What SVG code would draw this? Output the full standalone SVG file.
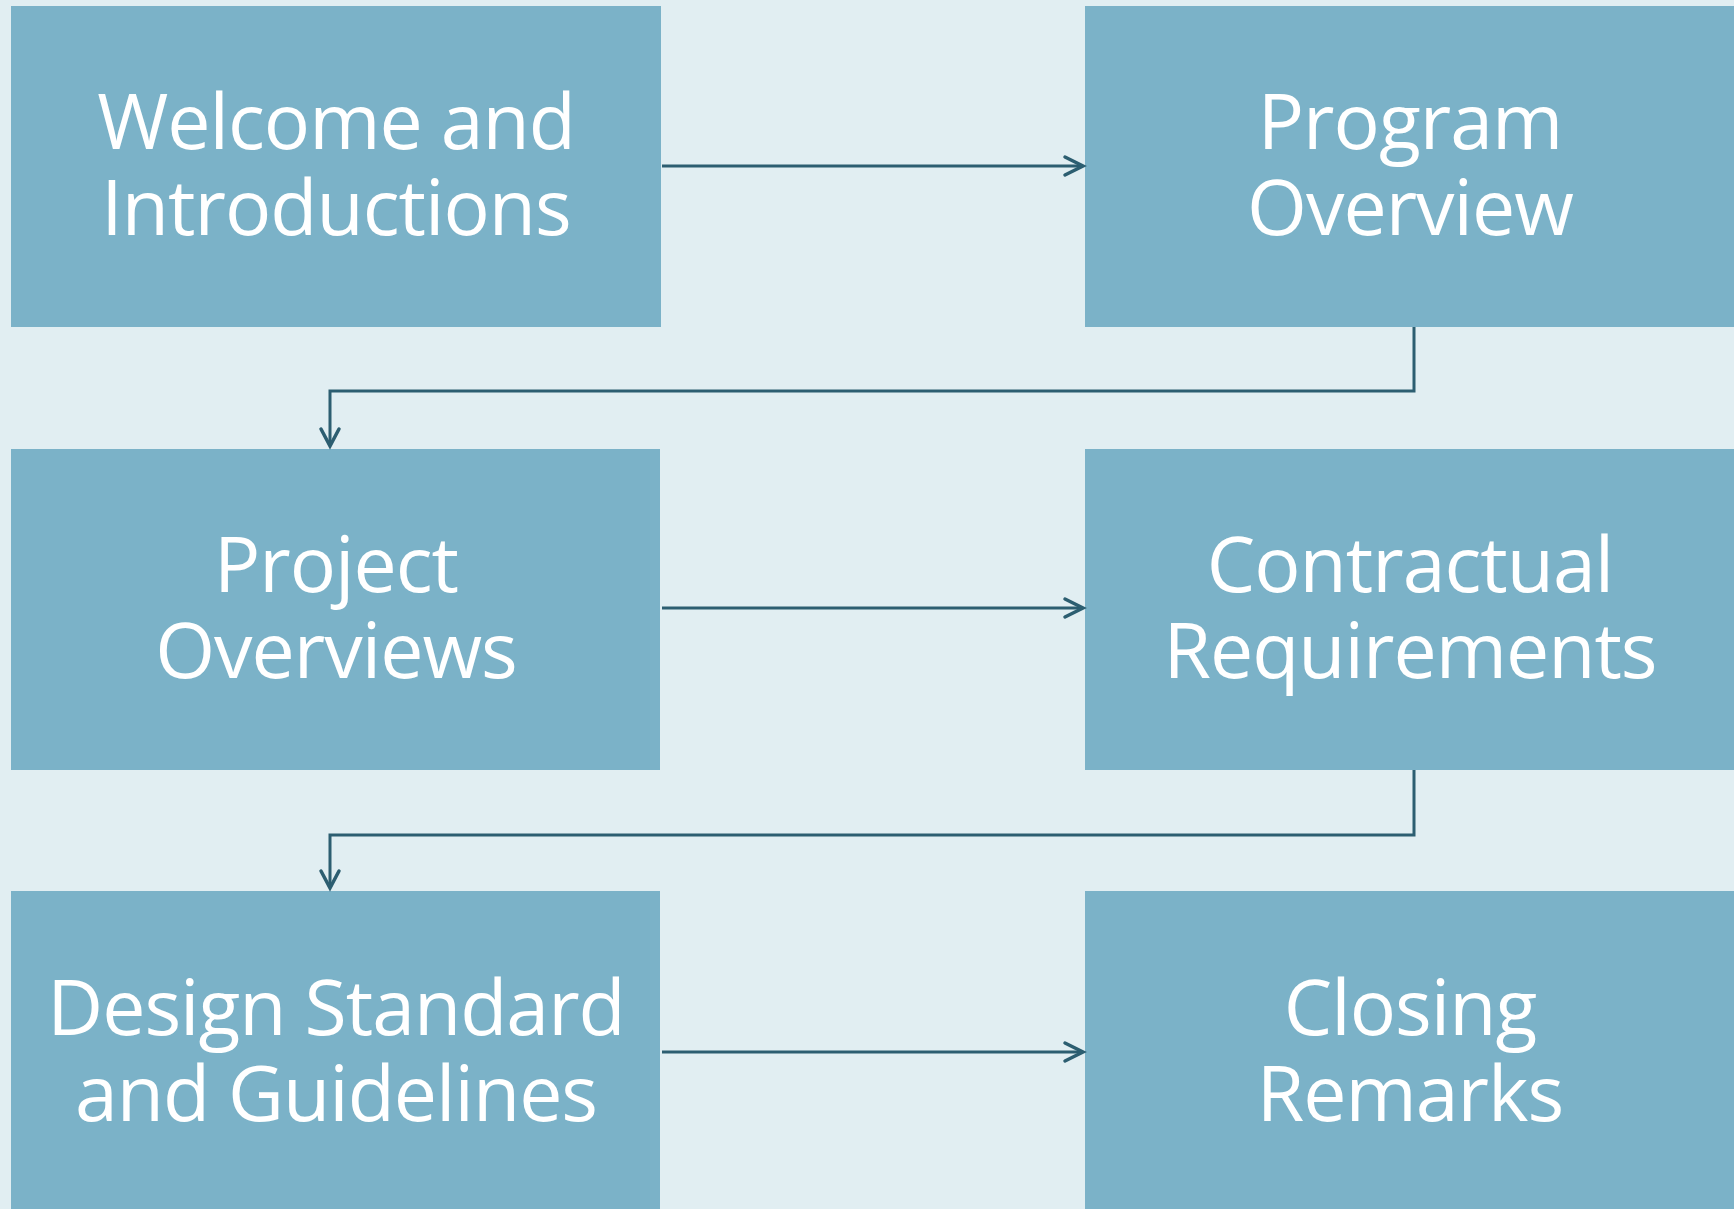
<svg xmlns="http://www.w3.org/2000/svg" width="1734" height="1209" viewBox="0 0 1734 1209">
<style>
.box{fill:#7BB2C8}
.lbl{font-family:"Open Sans","Noto Sans","DejaVu Sans",sans-serif;font-size:77px;letter-spacing:-1px;fill:#FFFFFF;text-anchor:middle}
.con{fill:none;stroke:#2C5E71;stroke-width:3}
.head{fill:none;stroke:#2C5E71;stroke-width:3.5;stroke-linecap:round;stroke-linejoin:miter}
</style>
<rect x="0" y="0" width="1734" height="1209" fill="#E1EEF2"/>
<g id="n1"><rect class="box" x="11" y="6" width="650" height="321"/><text class="lbl" x="336" y="149">Welcome and</text><text class="lbl" x="336" y="235">Introductions</text></g>
<g id="n2"><rect class="box" x="1085" y="6" width="649" height="321"/><text class="lbl" x="1410" y="149">Program</text><text class="lbl" x="1410" y="235">Overview</text></g>
<g id="n3"><rect class="box" x="11" y="449" width="649" height="321"/><text class="lbl" x="336" y="592">Project</text><text class="lbl" x="336" y="678">Overviews</text></g>
<g id="n4"><rect class="box" x="1085" y="449" width="649" height="321"/><text class="lbl" x="1410" y="592">Contractual</text><text class="lbl" x="1410" y="678">Requirements</text></g>
<g id="n5"><rect class="box" x="11" y="891" width="649" height="330"/><text class="lbl" x="336" y="1035">Design Standard</text><text class="lbl" x="336" y="1121">and Guidelines</text></g>
<g id="n6"><rect class="box" x="1085" y="891" width="649" height="330"/><text class="lbl" x="1410" y="1035">Closing</text><text class="lbl" x="1410" y="1121">Remarks</text></g>
<g id="connectors">
<path class="con" d="M662 166 H1082"/>
<path class="head" d="M1065 157 L1083 166 L1065 175"/>
<path class="con" d="M1414 327 V391 H330 V445"/>
<path class="head" d="M321 429 L330 446 L339 429"/>
<path class="con" d="M662 608 H1082"/>
<path class="head" d="M1065 599 L1083 608 L1065 617"/>
<path class="con" d="M1414 770 V835 H330 V887"/>
<path class="head" d="M321 871 L330 888 L339 871"/>
<path class="con" d="M662 1052 H1082"/>
<path class="head" d="M1065 1043 L1083 1052 L1065 1061"/>
</g>
</svg>
